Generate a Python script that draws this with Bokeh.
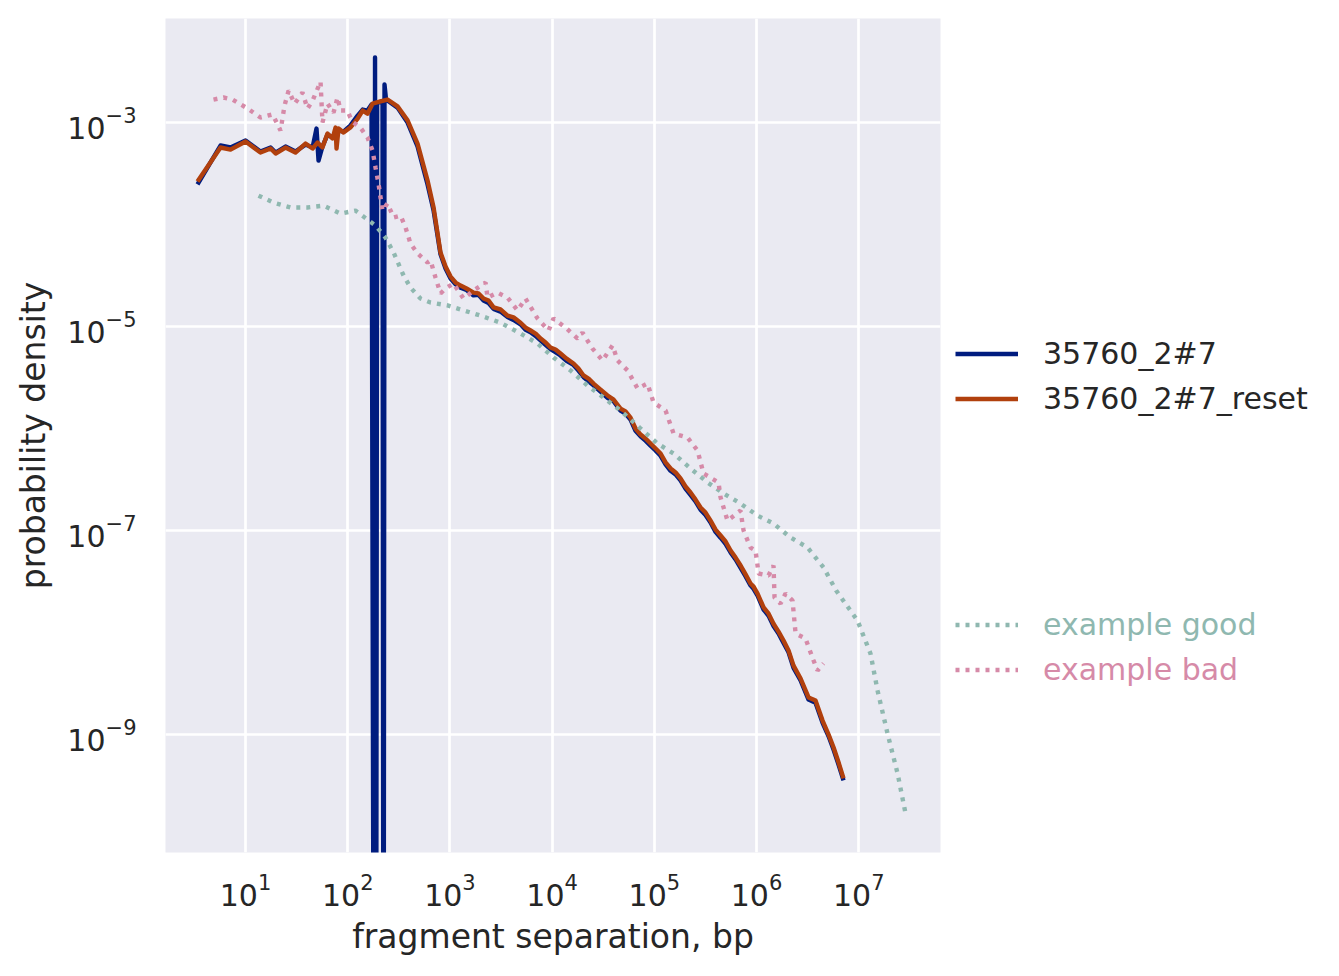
from bokeh.plotting import figure
from bokeh.models import Legend, LegendItem, FixedTicker, Range1d
from bokeh.layouts import row
from bokeh.embed import file_html
from bokeh.resources import INLINE

# ---- data ----
sep_reset = [3.39, 5.69, 7.13, 10.0, 14.0, 17.6, 19.7, 24.6, 30.8, 38.6, 45.3, 50.7, 56.6,
             63.4, 71.0, 76.0, 77.7, 81.3, 91.0, 106, 125, 140, 156, 175, 209, 245, 307, 385,
             482, 604, 692,
             809, 906, 1014, 1135, 1270, 1452, 1702, 1905, 2133, 2388, 2673, 3126, 3664,
             4188, 4909, 5495, 6152, 6887, 7709, 8630, 9638, 10790, 12080, 13840, 16180,
             18110, 20280, 22700, 25410, 29790, 34830, 39900, 46670, 52240, 58480, 65460,
             73280, 82040, 91830, 102800, 115100, 128800, 144200, 161400, 180300, 201800,
             225900, 252900, 283100, 316900, 354800, 397200, 444600, 497700, 557200, 623700,
             698200, 781600, 873000, 935400, 1023000, 1172000, 1312000, 1466000, 1641000,
             1837000, 2056000, 2301000, 2698000, 3228000, 3776000, 4426000, 5070000,
             5675000, 6353000, 7096000]
dens_reset = [2.64e-4, 5.69e-4, 5.43e-4, 6.52e-4, 5.08e-4, 5.56e-4, 4.97e-4, 5.69e-4, 5.08e-4,
              6.22e-4, 5.56e-4, 6.37e-4, 5.69e-4, 7.80e-4, 6.97e-4, 8.93e-4, 5.56e-4, 8.73e-4,
              7.98e-4, 8.93e-4, 1.09e-3, 1.31e-3, 1.22e-3, 1.53e-3, 1.61e-3, 1.68e-3, 1.44e-3,
              1.05e-3, 6.22e-4, 2.70e-4, 1.47e-4,
              5.31e-5, 3.88e-5, 3.09e-5, 2.70e-5, 2.52e-5, 2.36e-5, 2.15e-5, 2.11e-5, 1.88e-5,
              1.80e-5, 1.54e-5, 1.47e-5, 1.28e-5, 1.23e-5, 1.09e-5, 9.77e-6, 9.14e-6, 8.54e-6,
              7.62e-6, 6.97e-6, 6.22e-6, 5.95e-6, 5.43e-6, 4.85e-6, 4.34e-6, 3.88e-6, 3.31e-6,
              3.09e-6, 2.76e-6, 2.41e-6, 2.11e-6, 1.92e-6, 1.57e-6, 1.47e-6, 1.28e-6, 1.0e-6,
              8.73e-7, 7.98e-7, 7.13e-7, 6.37e-7, 5.69e-7, 4.65e-7, 4.06e-7, 3.71e-7, 3.24e-7,
              2.70e-7, 2.36e-7, 2.01e-7, 1.68e-7, 1.50e-7, 1.25e-7, 1.02e-7, 8.93e-8, 7.80e-8,
              6.37e-8, 5.43e-8, 4.54e-8, 3.71e-8, 3.02e-8, 2.82e-8, 2.41e-8, 1.76e-8, 1.53e-8,
              1.22e-8, 1.02e-8, 8.35e-9, 6.67e-9, 4.74e-9, 3.54e-9, 2.31e-9, 2.15e-9, 1.37e-9,
              1.0e-9, 7.46e-10, 5.31e-10, 3.71e-10]

sep_blue = [3.39, 5.69, 7.13, 10.0, 14.0, 17.6, 19.7, 24.6, 30.8, 38.6, 45.3, 49.5, 51.8,
            56.6, 63.4, 71.0, 81.3, 91.0, 106, 125, 140, 156, 171, 181, 185, 189, 194, 219,
            224, 229, 237, 307, 385, 482, 604, 692,
            809, 906, 1014, 1135, 1270, 1452, 1702, 1905, 2133, 2388, 2673, 3126, 3664,
            4188, 4909, 5495, 6152, 6887, 7709, 8630, 9638, 10790, 12080, 13840, 16180,
            18110, 20280, 22700, 25410, 29790, 34830, 39900, 46670, 52240, 58480, 65460,
            73280, 82040, 91830, 102800, 115100, 128800, 144200, 161400, 180300, 201800,
            225900, 252900, 283100, 316900, 354800, 397200, 444600, 497700, 557200, 623700,
            698200, 781600, 873000, 935400, 1023000, 1172000, 1312000, 1466000, 1641000,
            1837000, 2056000, 2301000, 2698000, 3228000, 3776000, 4426000, 5070000,
            5675000, 6353000, 7096000]
dens_blue = [2.47e-4, 5.95e-4, 5.69e-4, 6.67e-4, 5.20e-4, 5.69e-4, 5.08e-4, 5.82e-4, 5.20e-4,
             6.08e-4, 5.69e-4, 8.73e-4, 4.24e-4, 5.82e-4, 7.62e-4, 7.13e-4, 8.35e-4, 8.16e-4,
             9.34e-4, 1.17e-3, 1.34e-3, 1.31e-3, 1.50e-3, 1e-14, 4.34e-3, 1e-14, 1.57e-3,
             1.61e-3, 1e-14, 2.36e-3, 1.68e-3, 1.40e-3, 1.0e-3, 5.82e-4, 2.47e-4, 1.37e-4,
             5.1e-5, 3.7e-5, 2.95e-5, 2.6e-5, 2.4e-5, 2.28e-5, 2.02e-5, 2.05e-5, 1.80e-5,
             1.70e-5, 1.49e-5, 1.40e-5, 1.24e-5, 1.16e-5, 1.05e-5, 9.3e-6, 8.8e-6, 8.1e-6,
             7.3e-6, 6.6e-6, 6.0e-6, 5.6e-6, 5.2e-6, 4.6e-6, 4.2e-6, 3.7e-6, 3.2e-6,
             2.9e-6, 2.65e-6, 2.3e-6, 2.0e-6, 1.85e-6, 1.5e-6, 1.4e-6, 1.22e-6, 9.5e-7,
             8.4e-7, 7.6e-7, 6.8e-7, 6.1e-7, 5.4e-7, 4.45e-7, 3.85e-7, 3.55e-7, 3.1e-7,
             2.58e-7, 2.24e-7, 1.93e-7, 1.60e-7, 1.42e-7, 1.20e-7, 9.7e-8, 8.5e-8, 7.4e-8,
             6.1e-8, 5.2e-8, 4.3e-8, 3.55e-8, 2.9e-8, 2.68e-8, 2.3e-8, 1.68e-8, 1.46e-8,
             1.16e-8, 9.8e-9, 7.9e-9, 6.4e-9, 4.5e-9, 3.4e-9, 2.2e-9, 2.05e-9, 1.3e-9,
             9.6e-10, 7.1e-10, 5.05e-10, 3.55e-10]

sep_good = [13.4, 18.8, 27.6, 40.4, 58.0, 85.1, 119, 156, 187, 234, 281, 352, 411, 515, 646,
            948, 1358, 1991, 3126, 4909, 7194, 10320, 15140, 22180, 31840, 46670, 73300,
            107400, 154200, 226000, 331900, 475400, 696600, 1023000, 1466000, 2152000,
            3155000, 4529000, 6012000, 9727000, 13030000, 15280000, 19140000, 23990000,
            28710000]
dens_good = [1.92e-4, 1.64e-4, 1.47e-4, 1.47e-4, 1.53e-4, 1.28e-4, 1.37e-4, 1.12e-4, 9.77e-5,
             7.46e-5, 5.31e-5, 3.16e-5, 2.41e-5, 1.88e-5, 1.72e-5, 1.61e-5, 1.44e-5, 1.28e-5,
             1.09e-5, 8.54e-6, 6.81e-6, 4.97e-6, 3.71e-6, 2.64e-6, 2.01e-6, 1.50e-6, 1.0e-6,
             7.13e-7, 5.69e-7, 4.06e-7, 2.96e-7, 2.31e-7, 1.84e-7, 1.40e-7, 1.17e-7, 8.54e-8,
             6.81e-8, 4.34e-8, 2.58e-8, 1.31e-8, 6.22e-9, 2.70e-9, 1.02e-9, 4.15e-10, 1.68e-10]

sep_bad = [4.86, 6.09, 7.46, 10.5, 14.0, 18.4, 22.0, 24.1, 26.4, 30.2, 36.1, 40.4, 45.3, 54.2,
           56.6, 63.4, 72.6, 79.4, 85.1, 99.5, 106, 114, 133, 156, 175, 187, 200, 219, 245,
           281, 329, 368, 411, 482, 604, 646, 723, 809, 906, 1084, 1358, 1702, 2230, 2334,
           2924, 3664, 4581, 5495, 7194, 9226, 10320, 13520, 17740, 19820, 24830, 31120,
           38990, 43650, 54700, 68550, 85700, 98200, 128800, 154200, 211300, 264800, 302700,
           424600, 444600, 520000, 696600, 746400, 873000, 977000, 1047000, 1309000,
           1466000, 1500000, 1718000, 1923000, 2250000, 2410000, 3013000, 3614000, 3954000,
           4529000]
dens_bad = [1.68e-3, 1.76e-3, 1.68e-3, 1.37e-3, 1.12e-3, 1.20e-3, 8.35e-4, 1.47e-3, 2.06e-3,
            1.53e-3, 1.97e-3, 1.37e-3, 1.64e-3, 2.52e-3, 1.0e-3, 1.53e-3, 1.25e-3, 1.76e-3,
            1.31e-3, 1.31e-3, 1.12e-3, 1.0e-3, 8.93e-4, 7.13e-4, 5.31e-4, 3.62e-4, 2.52e-4,
            1.37e-4, 1.61e-4, 1.17e-4, 1.22e-4, 9.34e-5, 6.52e-5, 5.20e-5, 4.24e-5, 4.44e-5,
            3.02e-5, 2.11e-5, 2.36e-5, 2.64e-5, 1.88e-5, 2.25e-5, 2.70e-5, 1.92e-5, 2.15e-5,
            1.92e-5, 1.44e-5, 1.88e-5, 1.20e-5, 9.14e-6, 1.20e-5, 9.77e-6, 7.62e-6, 8.73e-6,
            6.08e-6, 4.65e-6, 6.52e-6, 4.65e-6, 3.71e-6, 2.47e-6, 2.76e-6, 1.80e-6, 1.50e-6,
            8.93e-7, 8.16e-7, 6.08e-7, 3.62e-7, 2.96e-7, 2.11e-7, 1.25e-7, 1.57e-7, 1.0e-7,
            6.81e-8, 6.37e-8, 3.79e-8, 3.62e-8, 4.54e-8, 2.20e-8, 1.92e-8, 2.41e-8, 2.06e-8,
            9.77e-9, 8.73e-9, 5.31e-9, 4.24e-9, 4.97e-9]

x_ticks = [1e1, 1e2, 1e3, 1e4, 1e5, 1e6, 1e7]
y_ticks = [1e-9, 1e-7, 1e-5, 1e-3]

C_BLUE = "#001C7F"
C_ORANGE = "#B1400D"
C_GOOD = "#8FB8B0"
C_BAD = "#D68AA8"
TXT = "#262626"
FONT = "DejaVu Sans"
LW = 4.4
DOT = "4 6"

H = 966
p = figure(frame_width=775, frame_height=834,
           x_axis_type="log", y_axis_type="log",
           x_range=Range1d(1.648, 6.31e7), y_range=Range1d(6.97e-11, 1.047e-2),
           output_backend="svg", toolbar_location=None,
           min_border_left=165, min_border_top=18, min_border_right=10,
           min_border_bottom=114)
p.background_fill_color = "#EAEAF2"
p.border_fill_color = "white"
p.outline_line_color = None

for ax in (p.xaxis, p.yaxis):
    ax.axis_line_color = None
    ax.major_tick_line_color = None
    ax.minor_tick_line_color = None
    ax.major_tick_out = 0
    ax.major_tick_in = 0
    ax.minor_tick_out = 0
    ax.minor_tick_in = 0
    ax.major_label_text_font = FONT
    ax.major_label_text_font_size = "30px"
    ax.major_label_text_color = TXT
    ax.axis_label_text_font = FONT
    ax.axis_label_text_font_size = "33px"
    ax.axis_label_text_font_style = "normal"
    ax.axis_label_text_color = TXT

p.xaxis.ticker = FixedTicker(ticks=x_ticks, minor_ticks=[])
p.yaxis.ticker = FixedTicker(ticks=y_ticks, minor_ticks=[])
p.xaxis.major_label_standoff = 20
p.yaxis.major_label_standoff = 29
p.xaxis.axis_label = "fragment separation, bp"
p.yaxis.axis_label = "probability density"
p.xaxis.axis_label_standoff = 8
p.yaxis.axis_label_standoff = 11

for g in (p.xgrid, p.ygrid):
    g.grid_line_color = "white"
    g.grid_line_width = 2.7
    g.minor_grid_line_color = None

p.line(sep_blue, dens_blue, line_color=C_BLUE, line_width=LW, line_join="round")
p.line(sep_reset, dens_reset, line_color=C_ORANGE, line_width=LW, line_join="round")
p.line(sep_good, dens_good, line_color=C_GOOD, line_width=LW, line_dash=DOT)
p.line(sep_bad, dens_bad, line_color=C_BAD, line_width=LW, line_dash=DOT)

# ---- legend panel to the right of the axes ----
q = figure(width=370, height=H, x_range=Range1d(0, 1), y_range=Range1d(0, 1),
           output_backend="svg", toolbar_location=None,
           x_axis_location=None, y_axis_location=None,
           min_border=0, min_border_left=0, min_border_right=0,
           min_border_top=0, min_border_bottom=0)
q.grid.visible = False
q.outline_line_color = None
q.background_fill_color = "white"
q.border_fill_color = "white"

# one off-range point each, only so that the legend can draw its swatches
e_blue = q.line([-1], [-1], line_color=C_BLUE, line_width=LW)
e_reset = q.line([-1], [-1], line_color=C_ORANGE, line_width=LW)
e_good = q.line([-1], [-1], line_color=C_GOOD, line_width=LW, line_dash=DOT)
e_bad = q.line([-1], [-1], line_color=C_BAD, line_width=LW, line_dash=DOT)


def make_legend(items, color, loc):
    lg = Legend(items=items, location=loc, orientation="vertical")
    lg.background_fill_alpha = 0
    lg.border_line_color = None
    lg.padding = 0
    lg.margin = 0
    lg.spacing = 0
    lg.glyph_width = 63
    lg.glyph_height = 45
    lg.label_height = 45
    lg.label_standoff = 25
    lg.label_text_font = FONT
    lg.label_text_font_size = "30px"
    lg.label_text_color = color
    lg.label_text_baseline = "middle"
    return lg


leg1 = make_legend([LegendItem(label="35760_2#7", renderers=[e_blue]),
                    LegendItem(label="35760_2#7_reset", renderers=[e_reset])],
                   TXT, (5, 431.5))
leg2 = make_legend([LegendItem(label="example good", renderers=[e_good])], C_GOOD, (5, 205.5))
leg3 = make_legend([LegendItem(label="example bad", renderers=[e_bad])], C_BAD, (5, 160.5))
for lg in (leg1, leg2, leg3):
    q.add_layout(lg, "center")

layout = row(p, q, spacing=0)
open("out.html", "w").write(file_html(layout, INLINE))
